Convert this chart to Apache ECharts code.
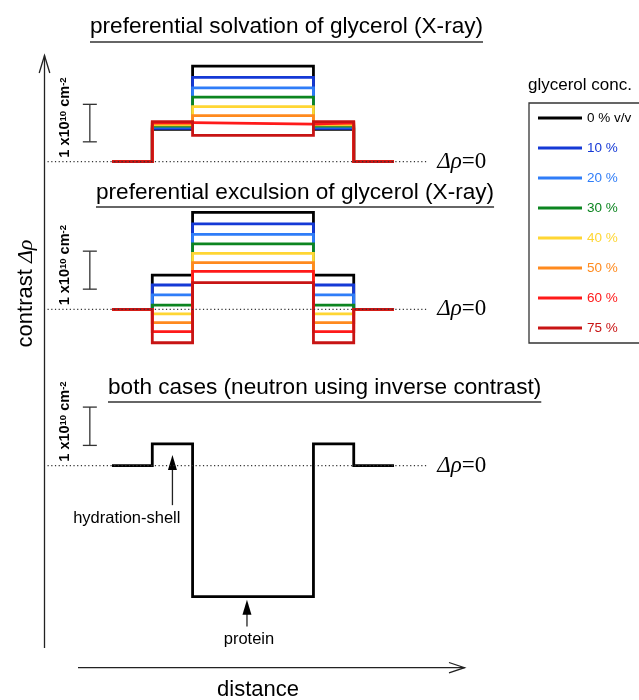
<!DOCTYPE html>
<html>
<head>
<meta charset="utf-8">
<script src="https://cdn.jsdelivr.net/npm/echarts@6/dist/echarts.min.js"></script>
<style>
  html, body { margin: 0; padding: 0; background: #ffffff; }
  #chart { width: 639px; height: 700px; }
</style>
</head>
<body>
<div id="chart"></div>
<script>
// Boundaries along the distance axis: solvent | shell | protein | shell | solvent
const edges = [0, 1, 2, 5, 6, 7];

// Glycerol concentrations and their colours
const concLabels = ['0 % v/v', '10 %', '20 %', '30 %', '40 %', '50 %', '60 %', '75 %'];
const concColors = ['#000000', '#1539d6', '#2f7df8', '#0c8520', '#ffd633', '#ff8a1e', '#ff1a1a', '#c81414'];

// Protein contrast (in 1e10 cm^-2) for each glycerol concentration
const proteinContrast = [2.55, 2.25, 1.97, 1.72, 1.47, 1.23, 1.00, 0.70];
// Hydration-shell contrast when glycerol accumulates in the shell
const shellSolvation = [0.86, 0.89, 0.92, 0.95, 0.98, 1.01, 1.04, 1.07];
// Hydration-shell contrast when glycerol is excluded from the shell
const shellExclusion = [0.90, 0.64, 0.38, 0.11, -0.12, -0.35, -0.59, -0.88];
// Neutron profile (inverse contrast)
const neutronShell = 0.57;
const neutronProtein = -3.42;

// Panel headings
const panelTitles = [
  'preferential solvation of glycerol (X-ray)',
  'preferential exculsion of glycerol (X-ray)',
  'both cases (neutron using inverse contrast)'
];
// Reference line extent and 1-unit scale bar [x, from, to]
const zeroLine = [-1.6, 7.85];
const scaleBar = [-0.55, 0.53, 1.53];
// Annotation arrows: [x, tail, tip]
const annotLabels = ['hydration-shell', 'protein'];
const annotArrows = [[1.5, -1.03, 0.28], [3.35, -4.2, -3.5]];

const SANS = '"Liberation Sans", Arial, Helvetica, sans-serif';
const SERIF = '"Liberation Serif", "Times New Roman", serif';

function profile(shell, prot) {
  const [a, b, c, d, e, f] = edges;
  return [[a, 0], [b, 0], [b, shell], [c, shell], [c, prot], [d, prot],
          [d, shell], [e, shell], [e, 0], [f, 0]];
}

// panel layout: baseline pixel and pixels per unit
const panels = [
  { base: 161.7, unit: 37.5, min: -1.5, max: 3.5 },
  { base: 309.3, unit: 38.0, min: -1.5, max: 3.5 },
  { base: 465.7, unit: 38.3, min: -5.0, max: 1.5 }
];
const xMin = -2, xMax = 9, xPx0 = 112, xUnit = 40.29;

const grid = panels.map(p => ({
  left: xPx0 + xMin * xUnit,
  width: (xMax - xMin) * xUnit,
  top: p.base - p.max * p.unit,
  height: (p.max - p.min) * p.unit
}));
const xAxis = panels.map((p, i) => ({ type: 'value', gridIndex: i, min: xMin, max: xMax, show: false }));
const yAxis = panels.map((p, i) => ({ type: 'value', gridIndex: i, min: p.min, max: p.max, show: false }));

const series = [];

// X-ray profiles for each concentration
[shellSolvation, shellExclusion].forEach((shellVals, gi) => {
  concLabels.forEach((name, k) => {
    series.push({
      type: 'line', name, xAxisIndex: gi, yAxisIndex: gi,
      data: profile(shellVals[k], proteinContrast[k]),
      symbol: 'none', clip: false, silent: true, z: 2,
      color: concColors[k],
      lineStyle: { color: concColors[k], width: 2.8, join: 'miter', cap: 'butt' }
    });
  });
});

// Neutron profile
series.push({
  type: 'line', name: 'neutron', xAxisIndex: 2, yAxisIndex: 2,
  data: profile(neutronShell, neutronProtein),
  symbol: 'none', clip: false, silent: true, z: 2,
  color: '#000',
  lineStyle: { color: '#000', width: 2.8, join: 'miter', cap: 'butt' }
});

// Dotted zero-contrast reference with its label
panels.forEach((p, i) => {
  series.push({
    type: 'line', name: 'zero' + i, xAxisIndex: i, yAxisIndex: i,
    data: [[zeroLine[0], 0], [zeroLine[1], 0]],
    symbol: 'none', clip: false, silent: true, z: 5,
    lineStyle: { color: '#333', width: 1.2, type: [1.2, 2.5] },
    endLabel: {
      show: true, distance: 9,
      formatter: '{d|Δρ}{e|=0}',
      rich: {
        d: { fontFamily: SERIF, fontStyle: 'italic', fontSize: 23, color: '#000' },
        e: { fontFamily: SERIF, fontSize: 23, color: '#000' }
      }
    }
  });
});

// Scale bars of one contrast unit with rotated labels
panels.forEach((p, i) => {
  series.push({
    type: 'custom', name: 'scale' + i, xAxisIndex: i, yAxisIndex: i,
    data: [scaleBar], silent: true, z: 3,
    renderItem(params, api) {
      const x = api.value(0);
      const p0 = api.coord([x, api.value(1)]);
      const p1 = api.coord([x, api.value(2)]);
      const pz = api.coord([x, 0]);
      const w = 7, st = { stroke: '#333', lineWidth: 1.3 };
      return {
        type: 'group', children: [
          { type: 'line', shape: { x1: p0[0], y1: p0[1], x2: p1[0], y2: p1[1] }, style: st },
          { type: 'line', shape: { x1: p0[0] - w, y1: p0[1], x2: p0[0] + w, y2: p0[1] }, style: st },
          { type: 'line', shape: { x1: p1[0] - w, y1: p1[1], x2: p1[0] + w, y2: p1[1] }, style: st },
          {
            type: 'text', x: p0[0] - 17, y: pz[1] - 4, rotation: Math.PI / 2,
            style: {
              text: '{b|1 x10}{s|10}{b| cm}{s|-2}',
              align: 'left', verticalAlign: 'bottom',
              rich: {
                b: { fontFamily: SANS, fontWeight: 'bold', fontSize: 14.5, lineHeight: 14, padding: [6, 0, 0, 0], verticalAlign: 'bottom', fill: '#000' },
                s: { fontFamily: SANS, fontWeight: 'bold', fontSize: 9.5, lineHeight: 9, verticalAlign: 'top', fill: '#000' }
              }
            }
          }
        ]
      };
    }
  });
});

// Annotation arrows pointing at shell and protein
series.push({
  type: 'custom', name: 'annotations', xAxisIndex: 2, yAxisIndex: 2,
  data: annotArrows, silent: true, z: 4,
  renderItem(params, api) {
    const x = api.value(0);
    const tail = api.coord([x, api.value(1)]);
    const tip = api.coord([x, api.value(2)]);
    const hw = 4.5, hl = 15;
    const isShell = params.dataIndex === 0;
    return {
      type: 'group', children: [
        { type: 'line', shape: { x1: tail[0], y1: tail[1], x2: tip[0], y2: tip[1] + hl - 2 }, style: { stroke: '#222', lineWidth: 1.3 } },
        { type: 'polygon', shape: { points: [[tip[0], tip[1]], [tip[0] - hw, tip[1] + hl], [tip[0] + hw, tip[1] + hl]] }, style: { fill: '#000' } },
        {
          type: 'text', x: isShell ? tail[0] + 8 : tail[0] + 2, y: tail[1] + 13,
          style: {
            text: annotLabels[params.dataIndex], fontFamily: SANS, fontSize: 16.5, fill: '#000',
            align: isShell ? 'right' : 'center', verticalAlign: 'middle'
          }
        }
      ]
    };
  }
});

// Underlined panel headings
const titleFont = 22.6;
function textWidth(str, size) {
  const ctx = document.createElement('canvas').getContext('2d');
  ctx.font = size + 'px ' + SANS;
  return ctx.measureText(str).width;
}
const titleLeft = [90, 96, 108];
const titleMid = [26.3, 192.3, 387.3];
const titleUnder = [42, 207, 402];
const graphic = [];
panelTitles.forEach((t, i) => {
  const w = textWidth(t, titleFont);
  graphic.push({
    type: 'text', x: titleLeft[i], y: titleMid[i], silent: true,
    style: { text: t, fontFamily: SANS, fontSize: titleFont, fill: '#000', align: 'left', verticalAlign: 'middle' }
  });
  graphic.push({
    type: 'line', silent: true,
    shape: { x1: titleLeft[i], y1: titleUnder[i], x2: titleLeft[i] + w, y2: titleUnder[i] },
    style: { stroke: '#333', lineWidth: 1.4 }
  });
});

// Axis arrows and names
const axisStyle = { stroke: '#222', lineWidth: 1.3, fill: null };
graphic.push(
  { type: 'line', silent: true, shape: { x1: 44.5, y1: 648, x2: 44.5, y2: 55.5 }, style: axisStyle },
  { type: 'polyline', silent: true, shape: { points: [[39.2, 73], [44.5, 55.5], [49.8, 73]] }, style: axisStyle },
  { type: 'line', silent: true, shape: { x1: 78, y1: 667.7, x2: 464.5, y2: 667.7 }, style: axisStyle },
  { type: 'polyline', silent: true, shape: { points: [[449, 662.5], [464.5, 667.7], [449, 672.9]] }, style: axisStyle },
  {
    type: 'text', x: 26, y: 293.5, rotation: Math.PI / 2, silent: true,
    style: {
      text: '{a|contrast }{g|Δρ}', align: 'center', verticalAlign: 'middle',
      rich: {
        a: { fontFamily: SANS, fontSize: 22, fill: '#000' },
        g: { fontFamily: SERIF, fontStyle: 'italic', fontSize: 22, fill: '#000' }
      }
    }
  },
  {
    type: 'text', x: 258, y: 690, silent: true,
    style: { text: 'distance', fontFamily: SANS, fontSize: 22, fill: '#000', align: 'center', verticalAlign: 'middle' }
  },
  {
    type: 'text', x: 528, y: 85, silent: true,
    style: { text: 'glycerol conc.', fontFamily: SANS, fontSize: 17, fill: '#000', align: 'left', verticalAlign: 'middle' }
  }
);

const chart = echarts.init(document.getElementById('chart'), null, { renderer: 'canvas' });
chart.setOption({
  animation: false,
  backgroundColor: '#ffffff',
  grid, xAxis, yAxis, series, graphic,
  legend: {
    data: concLabels.map((n, i) => ({ name: n, textStyle: { color: concColors[i] } })),
    orient: 'vertical', left: 529, top: 103,
    icon: 'rect', itemWidth: 44, itemHeight: 3, itemGap: 14,
    selectedMode: false,
    textStyle: { fontFamily: SANS, fontSize: 13.5, lineHeight: 16 },
    borderColor: '#333', borderWidth: 1.3,
    padding: [7, 30, 7, 9]
  }
});
</script>
</body>
</html>
